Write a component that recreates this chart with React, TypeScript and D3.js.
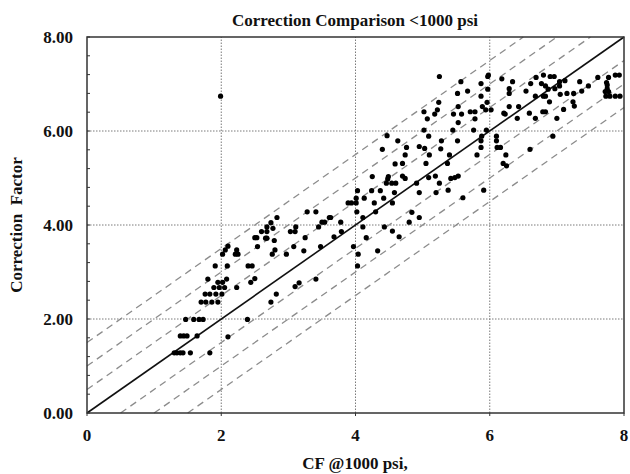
import React from "react";
import * as d3 from "d3";

// x: CF @1000 psi, y: Correction Factor
const cfAt1000 = [
  1.30, 1.34, 1.39, 1.43, 1.54, 1.83, 1.39, 1.44, 1.49, 1.64, 2.10, 1.47, 1.59, 1.67, 1.73, 2.39,
  1.70, 1.77, 1.86, 1.95, 2.74, 1.76, 1.83, 1.92, 2.01, 2.82, 1.89, 1.97, 2.05, 2.23, 1.95, 2.02,
  2.44, 1.80, 2.08, 2.50, 1.91, 2.09, 2.40, 2.46, 2.02, 2.21, 2.25, 2.76, 2.97, 2.06, 2.23, 2.80,
  2.10, 2.54, 2.50, 2.53, 2.66, 2.68, 2.79, 2.60, 2.68, 2.77, 2.68, 2.74, 2.83, 1.99,
  4.47, 4.63, 4.40, 4.59, 4.25, 4.49, 4.48, 4.46, 4.54, 4.60, 4.03, 4.24, 4.37, 4.58, 4.13, 4.42,
  3.89, 3.94, 4.01, 4.01, 4.28, 4.02, 4.30, 3.28, 3.41, 3.61, 3.63, 3.50, 3.54, 3.78, 4.11, 3.45,
  3.11, 3.03, 3.10, 4.11, 4.43, 4.55, 3.25, 3.68, 3.79, 4.16, 4.65, 3.08, 3.23, 3.48, 3.97, 4.04,
  4.03, 4.33, 3.10, 3.16, 3.41,
  5.25, 5.98, 5.97, 6.18, 5.57, 5.87, 5.97, 5.67, 5.52, 5.87, 6.29, 5.24, 5.96, 5.53, 5.89, 5.02,
  5.22, 5.94, 6.02, 5.71, 5.78, 5.18, 5.46, 5.58, 6.23, 5.07, 5.78, 5.53, 5.02, 5.45, 5.76, 5.95,
  5.09, 5.88, 6.10, 5.28, 5.52, 5.87, 6.10, 4.95, 5.03, 4.76, 5.27, 5.87, 6.11, 6.16, 4.74, 5.10,
  5.40, 5.81, 4.70, 5.05, 5.37, 6.20, 6.25, 4.70, 4.74, 5.09, 5.19, 5.42, 5.48, 5.53, 4.91, 5.25,
  4.95, 5.20, 5.38, 5.91, 4.55, 5.60, 4.84, 4.80, 4.95,
  6.34, 6.69, 6.80, 6.90, 6.96, 6.61, 6.77, 6.83, 7.04, 7.04, 7.12, 7.34, 7.47, 7.61, 7.77, 7.87,
  7.93, 7.74, 7.75, 7.75, 7.72, 7.77, 7.73, 7.79, 7.87, 7.94, 6.29, 6.54, 6.87, 6.97, 7.15, 7.25,
  7.37, 6.68, 6.80, 6.83, 7.05, 6.89, 7.24, 7.26, 6.29, 6.43, 7.10, 6.21, 6.59, 6.79, 6.83, 6.41,
  6.68, 7.00, 6.94, 6.60, 6.24,
];

const correctionFactor = [
  1.28, 1.28, 1.28, 1.28, 1.28, 1.28, 1.64, 1.64, 1.64, 1.64, 1.62, 1.99, 1.99, 1.99, 1.99, 1.99,
  2.36, 2.36, 2.36, 2.36, 2.36, 2.53, 2.53, 2.53, 2.53, 2.53, 2.67, 2.67, 2.67, 2.67, 2.78, 2.78,
  2.78, 2.85, 2.85, 2.86, 3.13, 3.13, 3.13, 3.13, 3.38, 3.38, 3.38, 3.38, 3.38, 3.47, 3.47, 3.47,
  3.55, 3.54, 3.73, 3.73, 3.72, 3.72, 3.67, 3.86, 3.86, 3.93, 3.96, 4.05, 4.16, 6.74,
  5.90, 5.79, 5.61, 5.30, 5.03, 5.03, 4.98, 4.89, 4.89, 4.89, 4.73, 4.73, 4.73, 4.69, 4.57, 4.57,
  4.47, 4.47, 4.47, 4.57, 4.47, 4.28, 4.28, 4.28, 4.28, 4.16, 4.16, 4.06, 4.06, 4.06, 4.16, 3.96,
  3.96, 3.86, 3.86, 3.96, 3.96, 3.87, 3.73, 3.75, 3.86, 3.73, 3.75, 3.54, 3.45, 3.54, 3.54, 3.38,
  3.13, 3.45, 2.69, 2.77, 2.85,
  7.16, 7.19, 7.16, 7.11, 7.05, 7.01, 6.89, 6.85, 6.80, 6.74, 6.80, 6.61, 6.61, 6.52, 6.52, 6.41,
  6.45, 6.45, 6.45, 6.41, 6.41, 6.36, 6.36, 6.36, 6.36, 6.26, 6.26, 6.18, 6.02, 6.02, 6.02, 6.02,
  5.89, 5.89, 5.89, 5.79, 5.79, 5.79, 5.79, 5.67, 5.63, 5.65, 5.62, 5.65, 5.65, 5.65, 5.49, 5.49,
  5.49, 5.49, 5.31, 5.31, 5.31, 5.31, 5.26, 5.04, 4.99, 5.01, 5.04, 4.99, 5.01, 5.04, 4.89, 4.89,
  4.69, 4.69, 4.74, 4.74, 4.47, 4.58, 4.27, 4.06, 4.16,
  7.05, 7.14, 7.19, 7.16, 7.16, 7.01, 7.01, 6.96, 7.05, 6.96, 7.07, 7.05, 6.96, 7.14, 7.14, 7.19,
  7.19, 7.03, 6.98, 6.90, 6.84, 6.84, 6.74, 6.74, 6.74, 6.74, 6.90, 6.85, 6.89, 6.90, 6.80, 6.80,
  6.85, 6.74, 6.74, 6.74, 6.78, 6.62, 6.62, 6.53, 6.52, 6.52, 6.46, 6.38, 6.38, 6.41, 6.41, 6.27,
  6.27, 6.27, 5.89, 5.61, 5.49,
];

const xTickValues = [0, 2, 4, 6, 8];
const yTickValues = [0, 2, 4, 6, 8];
const gridValues = [2, 4, 6];
const bandOffsets = [-1.5, -1, -0.5, 0.5, 1, 1.5];
const titleText = "Correction Comparison <1000 psi";
const xLabelText = "CF @1000 psi,";
const yLabelText = "Correction  Factor";

export default function App() {
  const W = 630;
  const H = 474;
  const left = 87, right = 624, top = 37, bottom = 413;
  const x = d3.scaleLinear().domain([0, 8]).range([left, right]);
  const y = d3.scaleLinear().domain([0, 8]).range([bottom, top]);
  const line = d3.line<[number, number]>().x((d) => x(d[0])).y((d) => y(d[1]));
  const fmt = d3.format(".2f");
  const minorY = d3.range(0, 8.0001, 0.4);
  const font = "'Liberation Serif', 'Times New Roman', serif";

  const segFor = (c: number): [number, number][] => {
    const x0 = Math.max(0, -c);
    const x1 = Math.min(8, 8 - c);
    return [[x0, x0 + c], [x1, x1 + c]];
  };

  const points = cfAt1000.map((v, i) => [v, correctionFactor[i]] as [number, number]);

  return (
    <svg
      width={W}
      height={H}
      style={{ position: "fixed", left: 0, top: 0, background: "#fff" }}
      fontFamily={font}
    >
      <rect x={0} y={0} width={W} height={H} fill="#fff" />
      {gridValues.map((g) => (
        <line key={"gx" + g} x1={x(g)} x2={x(g)} y1={y(0)} y2={y(8)} stroke="#7a7a7a" strokeWidth={1} strokeDasharray="1.5,1.5" />
      ))}
      {gridValues.map((g) => (
        <line key={"gy" + g} x1={x(0)} x2={x(8)} y1={y(g)} y2={y(g)} stroke="#7a7a7a" strokeWidth={1} strokeDasharray="1.5,1.5" />
      ))}
      {bandOffsets.map((c) => (
        <path key={"b" + c} d={line(segFor(c)) || ""} fill="none" stroke="#8c8c8c" strokeWidth={1.3} strokeDasharray="7,5" />
      ))}
      <path d={line([[0, 0], [8, 8]]) || ""} fill="none" stroke="#111" strokeWidth={1.6} />
      {points.map((p, i) => (
        <circle key={"p" + i} cx={x(p[0])} cy={y(p[1])} r={2.6} fill="#000" />
      ))}
      <rect x={left} y={top} width={right - left} height={bottom - top} fill="none" stroke="#333" strokeWidth={1.5} />
      {minorY.map((v) => (
        <line key={"my" + v} x1={x(0)} x2={x(0) + 3} y1={y(v)} y2={y(v)} stroke="#333" strokeWidth={1} />
      ))}
      {xTickValues.map((v) => (
        <line key={"xt" + v} x1={x(v)} x2={x(v)} y1={bottom} y2={bottom + 3} stroke="#333" strokeWidth={1} />
      ))}
      {yTickValues.map((v) => (
        <text key={"yl" + v} x={73} y={y(v)} dy="0.35em" textAnchor="end" fontSize={17} fontWeight="bold" fill="#111">
          {fmt(v)}
        </text>
      ))}
      {xTickValues.map((v) => (
        <text key={"xl" + v} x={x(v)} y={441} textAnchor="middle" fontSize={17} fontWeight="bold" fill="#111">
          {String(v)}
        </text>
      ))}
      <text x={355} y={26} textAnchor="middle" fontSize={17} fontWeight="bold" fill="#111">
        {titleText}
      </text>
      <text x={355} y={469} textAnchor="middle" fontSize={17} fontWeight="bold" fill="#111">
        {xLabelText}
      </text>
      <text
        transform={`translate(22, ${(top + bottom) / 2}) rotate(-90)`}
        textAnchor="middle"
        fontSize={17}
        fontWeight="bold"
        fill="#111"
        style={{ whiteSpace: "pre" }}
      >
        {yLabelText}
      </text>
    </svg>
  );
}
